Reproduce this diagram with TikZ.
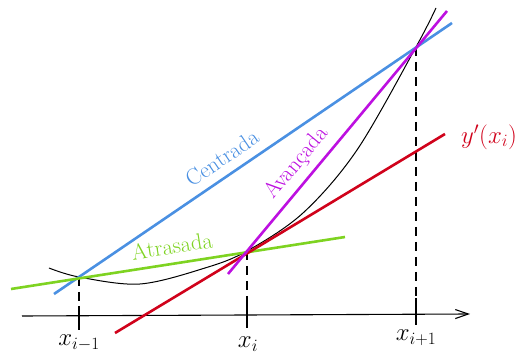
\documentclass[tikz,border=0pt]{standalone}
\usetikzlibrary{arrows.meta}
\definecolor{cblue}{RGB}{74,144,226}
\definecolor{cpurple}{RGB}{189,16,224}
\definecolor{cgreen}{RGB}{126,211,33}
\definecolor{cred}{RGB}{208,2,27}
\begin{document}
\begin{tikzpicture}[x=1pt,y=-1pt,
  secant/.style={line width=2.6pt},
  thin line/.style={line width=1.1pt,black},
  dashline/.style={line width=1.1pt,black,dash pattern=on 9pt off 6pt},
  lbl/.style={font=\fontsize{22.5}{26}\selectfont,inner sep=1pt},
  mlbl/.style={font=\fontsize{24}{28}\selectfont,inner sep=1pt},
  rlbl/.style={font=\fontsize{24}{28}\selectfont,inner sep=1pt}]
\useasboundingbox (0,0) rectangle (515,358);
% key points
\coordinate (P1) at (79,277);
\coordinate (P2) at (247,251);
\coordinate (P3) at (416,47);
% axis
\coordinate (axL) at (22,316);
\coordinate (axR) at (470,314);
\draw[thin line,-{Straight Barb[length=13pt,width=9pt,line width=1.1pt]}] (axL) -- (axR);
% dashed drops and ticks
\coordinate (T1a) at (79,306); \coordinate (T1b) at (79,330);
\coordinate (T2a) at (247,305); \coordinate (T2b) at (247,328);
\coordinate (T3a) at (416,298); \coordinate (T3b) at (416,325);
\draw[dashline] (P1) -- (T1a);
\draw[dashline] (P2) -- (T2a);
\draw[dashline] (P3) -- (T3a);
\draw[thin line] (T1a) -- (T1b);
\draw[thin line] (T2a) -- (T2b);
\draw[thin line] (T3a) -- (T3b);
% curve
\draw[line width=1pt] plot[smooth,tension=0.55] coordinates {(49,268) (79,277) (140,284) (205,268) (247,251) (303,213) (357,150) (416,47) (436,8)};
% lines
\coordinate (B1) at (54,294); \coordinate (B2) at (452,23);
\coordinate (V1) at (228,274); \coordinate (V2) at (447,11);
\coordinate (G1) at (11,289); \coordinate (G2) at (345,237);
\coordinate (R1) at (115,333); \coordinate (R2) at (445,134);
\draw[secant,cblue] (B1) -- (B2);
\draw[secant,cgreen] (G1) -- (G2);
\draw[secant,cred] (R1) -- (R2);
\draw[secant,cpurple] (V1) -- (V2);
% labels
\node[lbl,text=cblue,rotate=34.3] (lc) at (222,158) {Centrada};
\node[lbl,text=cpurple,rotate=50.4] (lv) at (297,163) {Avançada};
\node[lbl,text=cgreen,rotate=8.8] (la) at (172,246) {Atrasada};
\node[rlbl,text=cred,anchor=west] (ly) at (460,137) {$y'(x_i)$};
\node[mlbl] (x1) at (79,343) {$x_{i-1}$};
\node[mlbl] (x2) at (248,344) {$x_{i}$};
\node[mlbl] (x3) at (416,338) {$x_{i+1}$};
\end{tikzpicture}
\end{document}
